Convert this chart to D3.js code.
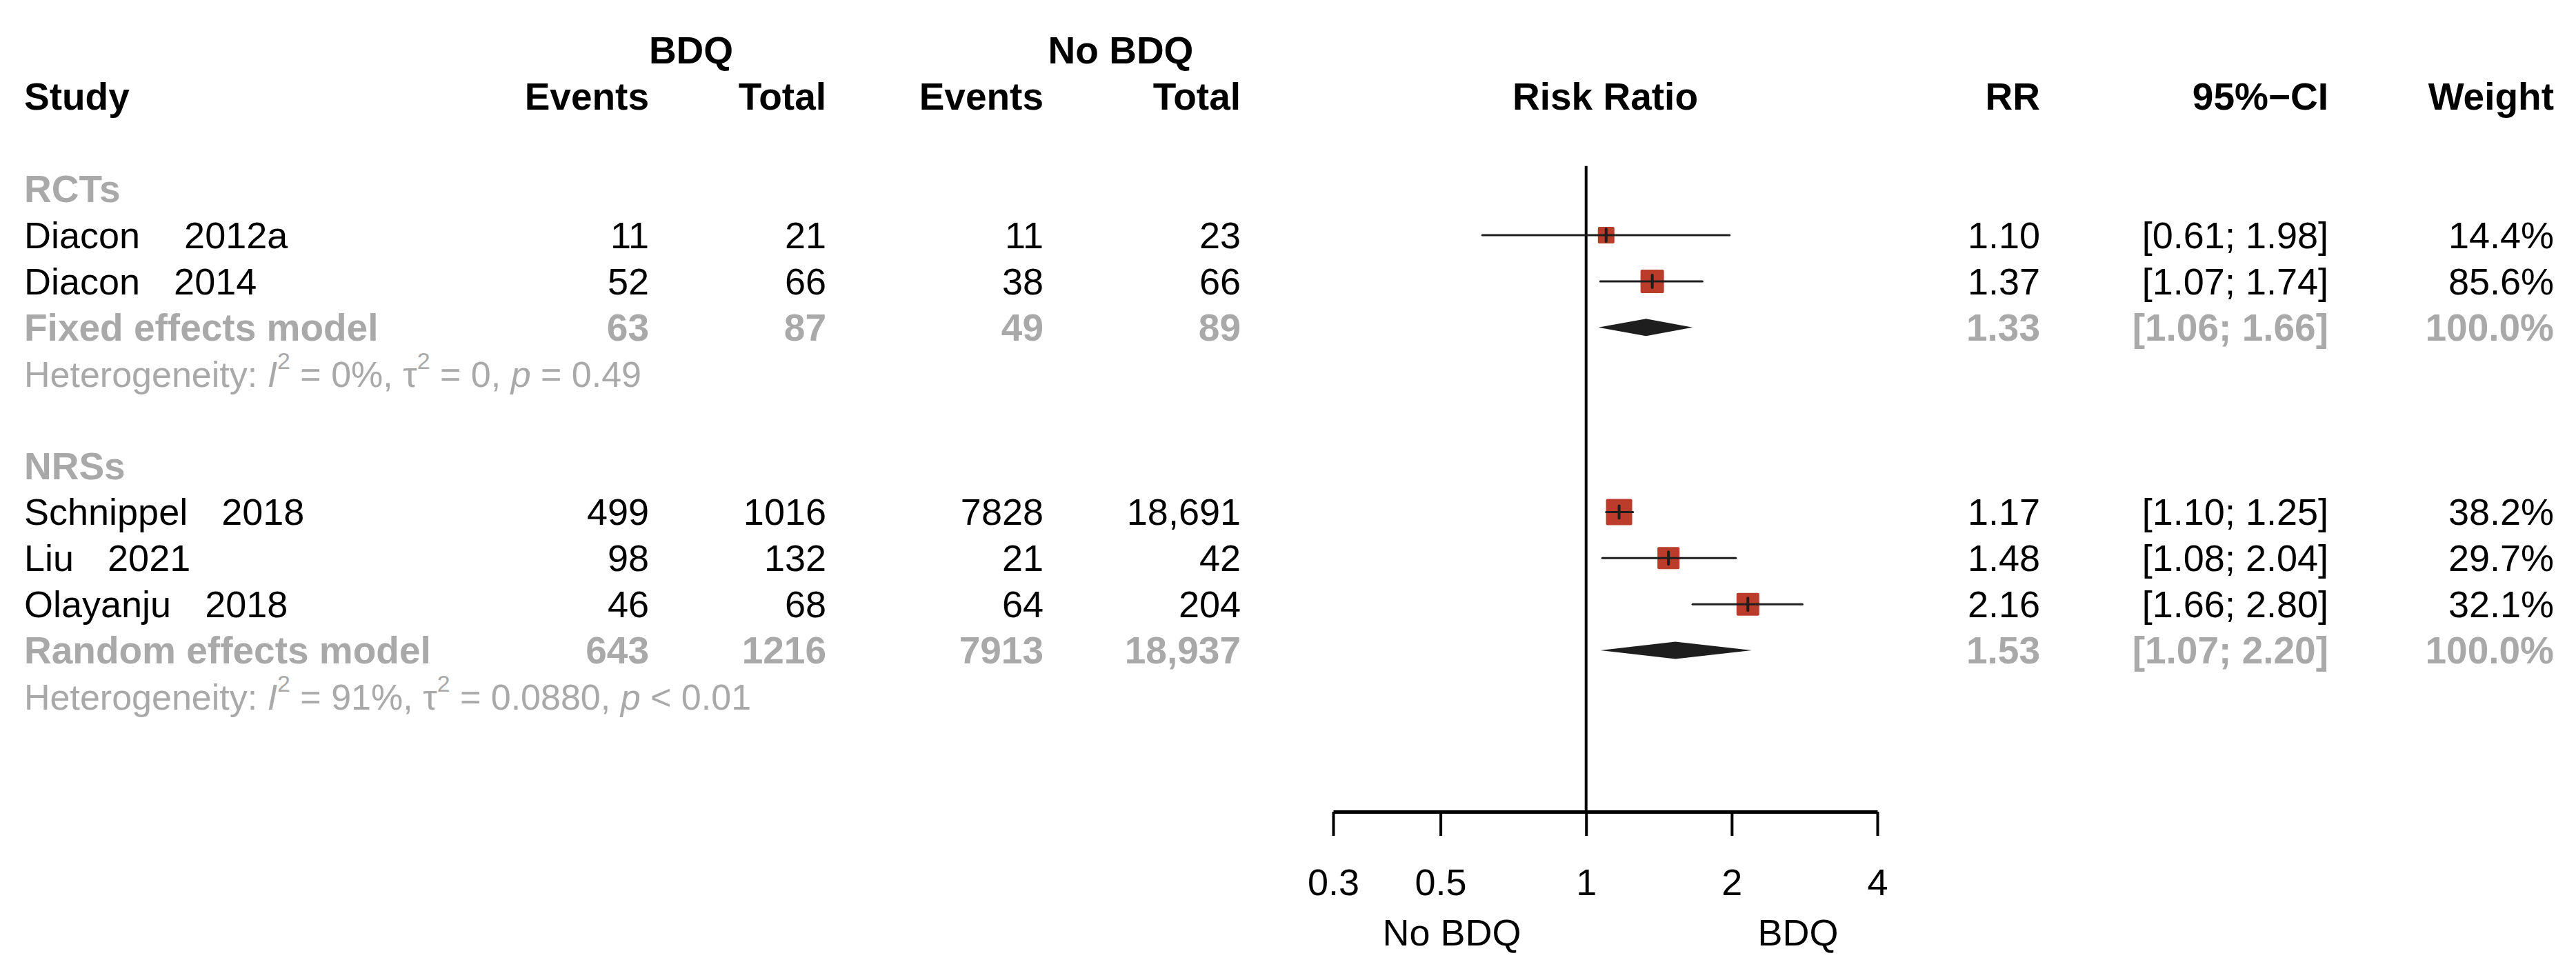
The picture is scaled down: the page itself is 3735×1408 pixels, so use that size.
<!DOCTYPE html>
<html>
<head>
<meta charset="utf-8">
<script src="https://cdn.jsdelivr.net/npm/d3@7"></script>
<style>
  body { margin: 0; background: #fff; }
  svg text { font-family: "Liberation Sans", Arial, Helvetica, sans-serif; white-space: pre; }
</style>
</head>
<body>
<div id="chart"></div>
<script>
// study rows
const studyAuthor = ["Diacon", "Diacon", "Schnippel", "Liu", "Olayanju"];
const studyYear = [" 2012a", "2014", "2018", "2021", "2018"];
const studyGroup = ["RCTs", "RCTs", "NRSs", "NRSs", "NRSs"];
const bdqEvents = [11, 52, 499, 98, 46];
const bdqTotal = [21, 66, 1016, 132, 68];
const noBdqEvents = [11, 38, 7828, 21, 64];
const noBdqTotal = [23, 66, 18691, 42, 204];
const rr = [1.10, 1.37, 1.17, 1.48, 2.16];
const rrLow = [0.61, 1.07, 1.10, 1.08, 1.66];
const rrHigh = [1.98, 1.74, 1.25, 2.04, 2.80];
const weightPct = [14.4, 85.6, 38.2, 29.7, 32.1];
const boxWeight = [10.9, 21.9, 27.3, 19.4, 20.6]; // relative box area

// subgroup summaries
const groups = ["RCTs", "NRSs"];
const modelLabels = ["Fixed effects model", "Random effects model"];
const sumBdqEvents = [63, 643];
const sumBdqTotal = [87, 1216];
const sumNoEvents = [49, 7913];
const sumNoTotal = [89, 18937];
const sumRR = [1.33, 1.53];
const sumLow = [1.06, 1.07];
const sumHigh = [1.66, 2.20];
const hetI2 = ["0%", "91%"];
const hetTau2 = ["0", "0.0880"];
const hetP = ["= 0.49", "< 0.01"];

const axisTicks = [0.3, 0.5, 1, 2, 4];

const W = 3735, H = 1408;
const fs = 54, fsBold = 55, fsHet = 52;
const grey = "#a9a9a9";
const ink = "#1e1e1e";
const red = "#bc3c2b";

const svg = d3.select("#chart").append("svg")
    .attr("width", W)
    .attr("height", H)
    .attr("viewBox", `0 0 ${W} ${H}`);

const x = d3.scaleLog().domain([0.3, 4]).range([1933, 2722]);
const y = d3.scaleLinear().domain([0, 13]).range([140.3, 1010]); // row centres
const base = 19; // text baseline below row centre
const box = d3.scaleSqrt().domain([0, d3.max(boxWeight)]).range([0, 38]);

const col = { label: 35, evB: 941, totB: 1198, evN: 1513, totN: 1799, rr: 2958, ci: 3376, w: 3703 };

function txt(xp, row, s, opts = {}) {
    return svg.append("text")
        .attr("x", xp)
        .attr("y", y(row) + base)
        .attr("text-anchor", opts.anchor || "start")
        .attr("font-size", opts.size || (opts.bold ? fsBold : fs))
        .attr("font-weight", opts.bold ? "bold" : "normal")
        .attr("fill", opts.color || "#000")
        .text(s);
}

const fmtN = v => v >= 10000 ? d3.format(",")(v) : String(v);
const f2 = d3.format(".2f");
const ciText = (a, b) => `[${f2(a)}; ${f2(b)}]`;

// headers
txt(1002, -1, "BDQ", { anchor: "middle", bold: true });
txt(1625, -1, "No BDQ", { anchor: "middle", bold: true });
txt(col.label, 0, "Study", { bold: true });
txt(col.evB, 0, "Events", { anchor: "end", bold: true });
txt(col.totB, 0, "Total", { anchor: "end", bold: true });
txt(col.evN, 0, "Events", { anchor: "end", bold: true });
txt(col.totN, 0, "Total", { anchor: "end", bold: true });
txt((x.range()[0] + x.range()[1]) / 2, 0, "Risk Ratio", { anchor: "middle", bold: true });
txt(col.rr, 0, "RR", { anchor: "end", bold: true });
txt(col.ci, 0, "95%\u2212CI", { anchor: "end", bold: true });
txt(col.w, 0, "Weight", { anchor: "end", bold: true });

// reference line at RR = 1
svg.append("line")
    .attr("x1", x(1)).attr("x2", x(1))
    .attr("y1", y(1.5)).attr("y2", 1177)
    .attr("stroke", "#000").attr("stroke-width", 4);

// rows
let row = 2;
groups.forEach((g, gi) => {
    txt(col.label, row, g, { bold: true, color: grey });
    row++;
    studyAuthor.forEach((author, i) => {
        if (studyGroup[i] !== g) return;
        const lab = txt(col.label, row, "");
        lab.append("tspan").text(author);
        lab.append("tspan").attr("dx", 49).text(studyYear[i]);
        txt(col.evB, row, fmtN(bdqEvents[i]), { anchor: "end" });
        txt(col.totB, row, fmtN(bdqTotal[i]), { anchor: "end" });
        txt(col.evN, row, fmtN(noBdqEvents[i]), { anchor: "end" });
        txt(col.totN, row, fmtN(noBdqTotal[i]), { anchor: "end" });
        txt(col.rr, row, f2(rr[i]), { anchor: "end" });
        txt(col.ci, row, ciText(rrLow[i], rrHigh[i]), { anchor: "end" });
        txt(col.w, row, d3.format(".1f")(weightPct[i]) + "%", { anchor: "end" });

        const cy = y(row), s = box(boxWeight[i]);
        svg.append("rect")
            .attr("x", x(rr[i]) - s / 2).attr("y", cy - s / 2)
            .attr("width", s).attr("height", s)
            .attr("rx", 2)
            .attr("fill", red);
        svg.append("line")
            .attr("x1", x(rrLow[i])).attr("x2", x(rrHigh[i]))
            .attr("y1", cy).attr("y2", cy)
            .attr("stroke", ink).attr("stroke-width", 3).attr("stroke-linecap", "round");
        svg.append("line")
            .attr("x1", x(rr[i])).attr("x2", x(rr[i]))
            .attr("y1", cy - 9).attr("y2", cy + 9)
            .attr("stroke", ink).attr("stroke-width", 4).attr("stroke-linecap", "round");
        row++;
    });

    // subgroup summary
    const o = { bold: true, color: grey };
    txt(col.label, row, modelLabels[gi], o);
    txt(col.evB, row, fmtN(sumBdqEvents[gi]), { ...o, anchor: "end" });
    txt(col.totB, row, fmtN(sumBdqTotal[gi]), { ...o, anchor: "end" });
    txt(col.evN, row, fmtN(sumNoEvents[gi]), { ...o, anchor: "end" });
    txt(col.totN, row, fmtN(sumNoTotal[gi]), { ...o, anchor: "end" });
    txt(col.rr, row, f2(sumRR[gi]), { ...o, anchor: "end" });
    txt(col.ci, row, ciText(sumLow[gi], sumHigh[gi]), { ...o, anchor: "end" });
    txt(col.w, row, "100.0%", { ...o, anchor: "end" });

    const cy = y(row);
    svg.append("path")
        .attr("d", d3.line()([
            [x(sumLow[gi]), cy], [x(sumRR[gi]), cy - 12.5],
            [x(sumHigh[gi]), cy], [x(sumRR[gi]), cy + 12.5]
        ]) + "Z")
        .attr("fill", ink);
    row++;

    // heterogeneity line
    const t = txt(col.label, row, "", { color: grey, size: fsHet });
    t.append("tspan").text("Heterogeneity: ");
    t.append("tspan").attr("font-style", "italic").text("I");
    t.append("tspan").attr("font-size", fsHet * 0.65).attr("dy", -26).text("2");
    t.append("tspan").attr("dy", 26).text(` = ${hetI2[gi]}, \u03c4`);
    t.append("tspan").attr("font-size", fsHet * 0.65).attr("dy", -26).text("2");
    t.append("tspan").attr("dy", 26).text(` = ${hetTau2[gi]}, `);
    t.append("tspan").attr("font-style", "italic").text("p");
    t.append("tspan").text(` ${hetP[gi]}`);
    row += 2;
});

// axis
const axis = svg.append("g")
    .attr("transform", "translate(0,1177)")
    .call(d3.axisBottom(x).tickValues(axisTicks).tickSize(35).tickSizeOuter(0).tickFormat(d => String(d)));
axis.select(".domain").attr("stroke", "#000").attr("stroke-width", 5);
axis.selectAll(".tick line").attr("stroke", "#000").attr("stroke-width", 4);
axis.selectAll(".tick text")
    .attr("y", 121).attr("dy", 0)
    .attr("font-size", fs)
    .attr("font-family", "'Liberation Sans', Arial, Helvetica, sans-serif")
    .attr("fill", "#000");

svg.append("text").attr("x", 2105).attr("y", 1371).attr("text-anchor", "middle")
    .attr("font-size", fs).text("No BDQ");
svg.append("text").attr("x", 2607).attr("y", 1371).attr("text-anchor", "middle")
    .attr("font-size", fs).text("BDQ");
</script>
</body>
</html>
